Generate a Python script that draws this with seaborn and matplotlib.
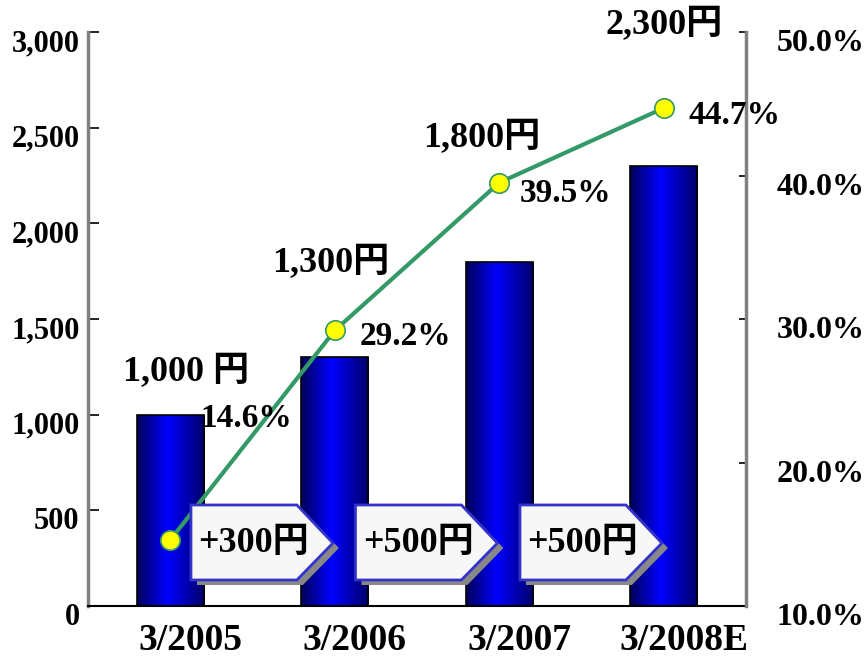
import numpy as np
import pandas as pd
import matplotlib
matplotlib.use('Agg')
import matplotlib.pyplot as plt
import matplotlib.transforms as mtrans
from matplotlib.patches import Polygon
from matplotlib.colors import LinearSegmentedColormap
import seaborn as sns

# データ
periods = ['3/2005', '3/2006', '3/2007', '3/2008E']
dividends = [1000, 1300, 1800, 2300]
payout = [14.6, 29.2, 39.5, 44.7]
value_labels = ['1,000 円', '1,300円', '1,800円', '2,300円']
payout_labels = ['14.6%', '29.2%', '39.5%', '44.7%']

sns.set_style('white')
plt.rcParams['font.family'] = ['Liberation Serif', 'Noto Sans CJK JP']
plt.rcParams['font.weight'] = 'bold'
plt.rcParams['text.color'] = 'black'
plt.rcParams['xtick.labelcolor'] = 'black'
plt.rcParams['ytick.labelcolor'] = 'black'

df = pd.DataFrame({'period': periods, 'dividend': dividends, 'payout': payout})

fig = plt.figure(figsize=(8.66, 6.6), dpi=100)
ax = fig.add_axes([0.1016, 0.0818, 0.7598, 0.8697])

sns.barplot(data=df, x='period', y='dividend', ax=ax, color='#0000ff',
            width=0.41, edgecolor='black', linewidth=1.2, zorder=2)

# 棒のグラデーション
cmap = LinearSegmentedColormap.from_list(
    'bar', [(0, '#000058'), (0.45, '#0000ff'), (1, '#000068')])
grad = np.linspace(0, 1, 256).reshape(1, -1)
for p in ax.patches:
    x0, y0, w, h = p.get_x(), p.get_y(), p.get_width(), p.get_height()
    im = ax.imshow(grad, extent=[x0, x0 + w, y0, y0 + h], aspect='auto',
                   cmap=cmap, zorder=2, interpolation='bicubic')
    im.set_clip_path(p)
    p.set_facecolor('none')
    p.set_zorder(3)

ax.set_xlim(-0.5, 3.5)
ax.set_ylim(0, 3000)
ax.set_xlabel('')
ax.set_ylabel('')
ax.set_yticks([0, 500, 1000, 1500, 2000, 2500, 3000])
ax.set_yticklabels([f'{v:,}' for v in [0, 500, 1000, 1500, 2000, 2500, 3000]])

ax2 = ax.twinx()
sns.lineplot(x=np.arange(len(periods)), y=payout, ax=ax2, color='#339966',
             linewidth=3, marker='o', markersize=14, markerfacecolor='#ffff00',
             markeredgecolor='#339966', markeredgewidth=1.2, sort=False, zorder=4)
ax2.set_ylim(10, 50)
ax2.set_xlim(-0.5, 3.5)
ax2.set_yticks([10, 20, 30, 40, 50])
ax2.set_yticklabels([f'{v:.1f}%' for v in [10, 20, 30, 40, 50]])

# 軸の体裁
for s in ['top', 'right']:
    ax.spines[s].set_visible(False)
ax.spines['left'].set_color('#808080')
ax.spines['left'].set_linewidth(2.5)
ax.spines['bottom'].set_color('black')
ax.spines['bottom'].set_linewidth(1.5)
for s in ['top', 'left', 'bottom']:
    ax2.spines[s].set_visible(False)
ax2.spines['right'].set_color('#808080')
ax2.spines['right'].set_linewidth(2.5)

ax.tick_params(axis='y', direction='in', length=8, width=1.2, color='black',
               labelsize=22, pad=6, labelcolor='black')
ax.tick_params(axis='x', which='major', length=0, labelsize=27, pad=12,
               labelcolor='black')
ax.set_xticks([0.5, 1.5, 2.5], minor=True)
ax.tick_params(axis='x', which='minor', direction='in', length=10, width=2,
               color='#999999')
ax2.tick_params(axis='y', direction='in', length=5, width=1.2, color='black',
                labelsize=23, pad=22, labelcolor='black')

down = mtrans.ScaledTranslation(0, -8 / 100, fig.dpi_scale_trans)
for lbl in ax.get_yticklabels() + ax2.get_yticklabels():
    lbl.set_transform(lbl.get_transform() + down)
right = mtrans.ScaledTranslation(20 / 100, 0, fig.dpi_scale_trans)
for lbl in ax.get_xticklabels():
    lbl.set_transform(lbl.get_transform() + right)

# 配当額ラベル
value_offsets = [(16, 43), (-4, 94), (-17, 124), (0, 141)]
for i, (txt, off) in enumerate(zip(value_labels, value_offsets)):
    ax2.annotate(txt, xy=(i, ax2.transData.inverted().transform(
        ax.transData.transform((i, dividends[i])))[1]),
        xytext=off, textcoords='offset pixels', ha='center', va='center',
        fontsize=26, fontweight='bold', color='black',
        annotation_clip=False, zorder=6)

# 配当性向ラベル
payout_offsets = [(76, 122), (71, -6), (66, -11), (71, -7)]
for i, (txt, off) in enumerate(zip(payout_labels, payout_offsets)):
    ax2.annotate(txt, xy=(i, payout[i]), xytext=off, textcoords='offset pixels',
                 ha='center', va='center', fontsize=24, fontweight='bold',
                 color='black', annotation_clip=False, zorder=6)

# 増配額の矢印ボックス
increments = np.diff(dividends)
bx = np.array([0.126, 0.770, 0.989, 0.770, 0.126])
by = np.array([528, 528, 329, 136, 136])
shadow = ax.transData + mtrans.ScaledTranslation(6 / 100, -5 / 100, fig.dpi_scale_trans)
for k, d in enumerate(increments):
    verts = np.column_stack([bx + k, by])
    ax2.add_patch(Polygon(verts, closed=True, facecolor='#888888', edgecolor='none',
                          transform=shadow, zorder=7))
    ax2.add_patch(Polygon(verts, closed=True, facecolor='#f7f7f7', edgecolor='#3333cc',
                          linewidth=2, transform=ax.transData, zorder=8))
    ax2.text(0.509 + k, 329, f'+{d}円', transform=ax.transData, ha='center',
             va='center', fontsize=26, fontweight='bold', color='black', zorder=9)

fig.savefig('out.png', dpi=100)
